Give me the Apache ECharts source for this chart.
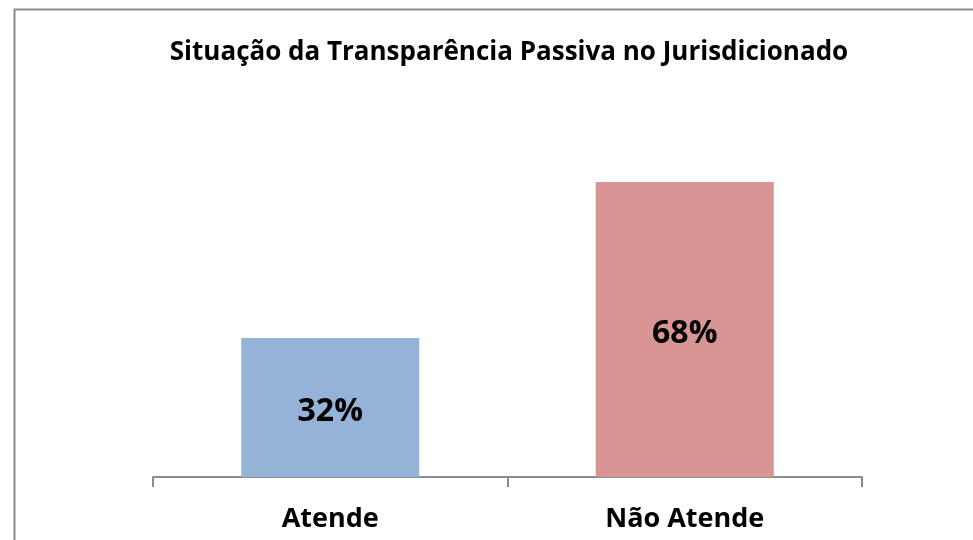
<!DOCTYPE html>
<html>
<head>
<meta charset="utf-8">
<script src="https://cdn.jsdelivr.net/npm/echarts@6/dist/echarts.min.js"></script>
<style>
html,body{margin:0;padding:0;background:#fff;}
#main{width:973px;height:540px;}
</style>
</head>
<body>
<div id="main"></div>
<script>
var categories = ["Atende", "Não Atende"];
var values = [32, 68];
var barColors = ["#95b3d7", "#d99594"];

var myChart = echarts.init(document.getElementById("main"));

var option = {
    animation: false,
    title: {
        text: "Situação da Transparência Passiva no Jurisdicionado",
        left: 504,
        textAlign: "center",
        top: 35,
        textStyle: {
            fontFamily: "Open Sans",
            fontWeight: "bold",
            fontSize: 26,
            color: "#000"
        }
    },
    graphic: [{
        type: "rect",
        shape: {x: 14.5, y: 9.5, width: 1000, height: 600},
        style: {fill: null, stroke: "#8c8c8c", lineWidth: 2},
        silent: true
    }],
    grid: {left: 153, right: 111, top: 43, bottom: 63},
    xAxis: {
        type: "category",
        data: categories,
        axisLine: {lineStyle: {color: "#8c8c8c", width: 2}},
        axisTick: {show: true, length: 10, lineStyle: {color: "#8c8c8c", width: 2}},
        axisLabel: {
            margin: 29,
            fontFamily: "Open Sans",
            fontWeight: "bold",
            fontSize: 27,
            color: "#000"
        }
    },
    yAxis: {
        type: "value",
        min: 0,
        max: 100,
        show: false,
        splitLine: {show: false}
    },
    series: [{
        type: "bar",
        barWidth: 178,
        data: values.map(function (v, i) {
            return {value: v, itemStyle: {color: barColors[i]}};
        }),
        label: {
            show: true,
            position: "inside",
            offset: [0, 4],
            formatter: "{c}%",
            fontFamily: "Open Sans",
            fontWeight: "bold",
            fontSize: 32,
            color: "#000"
        }
    }]
};

myChart.setOption(option);
</script>
</body>
</html>
